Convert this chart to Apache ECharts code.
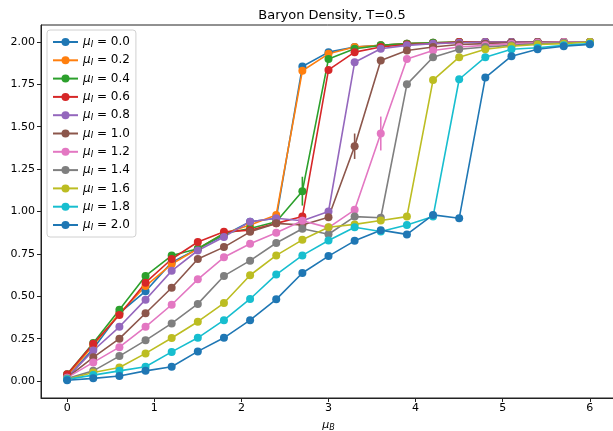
<!DOCTYPE html>
<html>
<head>
<meta charset="utf-8">
<script src="https://cdn.jsdelivr.net/npm/echarts@6/dist/echarts.min.js"></script>
<style>
  html, body { margin: 0; padding: 0; background: #fff; }
  #main { width: 613px; height: 431px; }
</style>
</head>
<body>
<div id="main"></div>
<script>
  // mu_B grid, 0 .. 6 step 0.3
  const muB = ['0.0','0.3','0.6','0.9','1.2','1.5','1.8','2.1','2.4','2.7','3.0',
               '3.3','3.6','3.9','4.2','4.5','4.8','5.1','5.4','5.7','6.0'].map(Number);
  const muI = ['0.0','0.2','0.4','0.6','0.8','1.0','1.2','1.4','1.6','1.8','2.0'];
  const xTicks = [0, 1, 2, 3, 4, 5, 6];
  const yTicks = [0, 0.25, 0.5, 0.75, 1.0, 1.25, 1.5, 1.75, 2.0];

  const rho00 = [0.02,0.19,0.40,0.53,0.70,0.78,0.86,0.94,0.96,1.855,1.94,1.97,1.98,1.99,1.995,2.0,2.0,2.0,2.0,2.0,2.0];
  const rho02 = [0.03,0.21,0.40,0.56,0.69,0.78,0.87,0.92,0.98,1.83,1.93,1.97,1.98,1.99,1.995,2.0,2.0,2.0,2.0,2.0,2.0];
  const rho04 = [0.04,0.225,0.42,0.62,0.74,0.78,0.87,0.90,0.94,1.12,1.90,1.96,1.98,1.99,1.995,2.0,2.0,2.0,2.0,2.0,2.0];
  const rho06 = [0.04,0.22,0.39,0.58,0.72,0.82,0.88,0.89,0.93,0.97,1.835,1.94,1.97,1.985,1.99,2.0,2.0,2.0,2.0,2.0,2.0];
  const rho08 = [0.02,0.18,0.32,0.48,0.65,0.77,0.85,0.94,0.96,0.945,1.0,1.88,1.96,1.98,1.99,1.995,2.0,2.0,2.0,2.0,2.0];
  const rho10 = [0.02,0.14,0.25,0.40,0.55,0.72,0.79,0.88,0.93,0.92,0.966,1.385,1.89,1.95,1.97,1.985,1.99,1.995,2.0,2.0,2.0];
  const rho12 = [0.02,0.11,0.20,0.32,0.45,0.60,0.73,0.81,0.875,0.945,0.905,1.01,1.46,1.90,1.95,1.97,1.98,1.99,1.995,2.0,2.0];
  const rho14 = [0.015,0.06,0.147,0.24,0.34,0.455,0.62,0.71,0.814,0.898,0.866,0.97,0.963,1.75,1.91,1.957,1.97,1.98,1.99,1.995,2.0];
  const rho16 = [0.01,0.05,0.08,0.163,0.254,0.35,0.46,0.624,0.741,0.833,0.907,0.924,0.947,0.97,1.775,1.91,1.957,1.975,1.985,1.99,2.0];
  const rho18 = [0.01,0.035,0.06,0.084,0.172,0.255,0.359,0.484,0.628,0.741,0.829,0.907,0.882,0.92,0.97,1.78,1.91,1.957,1.966,1.98,1.99];
  const rho20 = [0.005,0.016,0.03,0.06,0.084,0.175,0.255,0.359,0.482,0.637,0.737,0.827,0.89,0.865,0.98,0.96,1.79,1.916,1.957,1.975,1.986];
  const allRho = [rho00, rho02, rho04, rho06, rho08, rho10, rho12, rho14, rho16, rho18, rho20];

  // visible error bars: [series index, mu_B index, half length]
  const errBars = [[2, 9, 0.085], [5, 11, 0.075], [6, 12, 0.10]];

  const colors = ['#1f77b4','#ff7f0e','#2ca02c','#d62728','#9467bd','#8c564b',
                  '#e377c2','#7f7f7f','#bcbd22','#17becf','#1f77b4'];

  const font = 'DejaVu Sans';
  const chart = echarts.init(document.getElementById('main'));

  const series = allRho.map(function (rho, i) {
    return {
      name: 'muI' + muI[i],
      type: 'line',
      data: rho.map(function (v, k) { return [muB[k], v]; }),
      symbol: 'circle',
      symbolSize: 8,
      showSymbol: true,
      color: colors[i],
      lineStyle: {width: 1.6},
      animation: false
    };
  });

  series.push({
    type: 'custom',
    data: errBars.map(function (e) { return [muB[e[1]], allRho[e[0]][e[1]], e[2], e[0]]; }),
    renderItem: function (params, api) {
      const x = api.value(0), y = api.value(1), e = api.value(2);
      const p1 = api.coord([x, y - e]);
      const p2 = api.coord([x, y + e]);
      return {
        type: 'line',
        shape: {x1: p1[0], y1: p1[1], x2: p2[0], y2: p2[1]},
        style: {stroke: colors[api.value(3)], lineWidth: 1.6}
      };
    },
    z: 3,
    silent: true,
    animation: false
  });

  chart.setOption({
    animation: false,
    title: {
      text: 'Baryon Density, T=0.5',
      left: 327, top: 4, textAlign: 'center',
      textStyle: {fontFamily: font, fontSize: 13, fontWeight: 'normal', color: '#000'}
    },
    legend: {
      orient: 'vertical',
      left: 47, top: 30,
      itemWidth: 25, itemHeight: 10, itemGap: 4.3,
      padding: [5, 6, 5, 5],
      borderColor: '#d0d0d0', borderWidth: 1, borderRadius: 3,
      backgroundColor: 'rgba(255,255,255,0.8)',
      data: series.slice(0, 11).map(function (s) { return s.name; }),
      formatter: function (name) { return '{m|μ}{s|I}{t| = ' + name.slice(3) + '}'; },
      textStyle: {
        fontFamily: font, fontSize: 12, color: '#000', lineHeight: 14,
        rich: {
          m: {fontFamily: font, fontSize: 12, fontStyle: 'italic', color: '#000', lineHeight: 14},
          s: {fontFamily: font, fontSize: 8.5, fontStyle: 'italic', color: '#000', lineHeight: 8, verticalAlign: 'bottom'},
          t: {fontFamily: font, fontSize: 12, color: '#000', lineHeight: 14}
        }
      }
    },
    grid: {
      left: 41, right: -3, top: 25, bottom: 33,
      outerBoundsMode: 'none',
      containLabel: false,
      show: true, borderColor: '#222', borderWidth: 1
    },
    xAxis: {
      type: 'value',
      min: -0.3, max: 6.3,
      name: '{m|μ}{s|B}',
      nameLocation: 'middle',
      nameGap: 21,
      nameTextStyle: {
        rich: {
          m: {fontFamily: font, fontSize: 11, fontStyle: 'italic', color: '#000', lineHeight: 13},
          s: {fontFamily: font, fontSize: 8, fontStyle: 'italic', color: '#000', lineHeight: 8, verticalAlign: 'bottom'}
        }
      },
      splitLine: {show: false},
      axisLine: {show: true, onZero: false, lineStyle: {color: '#222'}},
      axisTick: {show: true, length: 4, customValues: xTicks, lineStyle: {color: '#222'}},
      axisLabel: {
        customValues: xTicks, margin: 5,
        fontFamily: font, fontSize: 11, color: '#000',
        formatter: function (v) { return String(v); }
      }
    },
    yAxis: {
      type: 'value',
      min: -0.1, max: 2.1,
      splitLine: {show: false},
      axisLine: {show: true, onZero: false, lineStyle: {color: '#222'}},
      axisTick: {show: true, length: 4, customValues: yTicks, lineStyle: {color: '#222'}},
      axisLabel: {
        customValues: yTicks, margin: 6,
        fontFamily: font, fontSize: 11, color: '#000',
        formatter: function (v) { return v.toFixed(2); }
      }
    },
    series: series
  });
</script>
</body>
</html>
